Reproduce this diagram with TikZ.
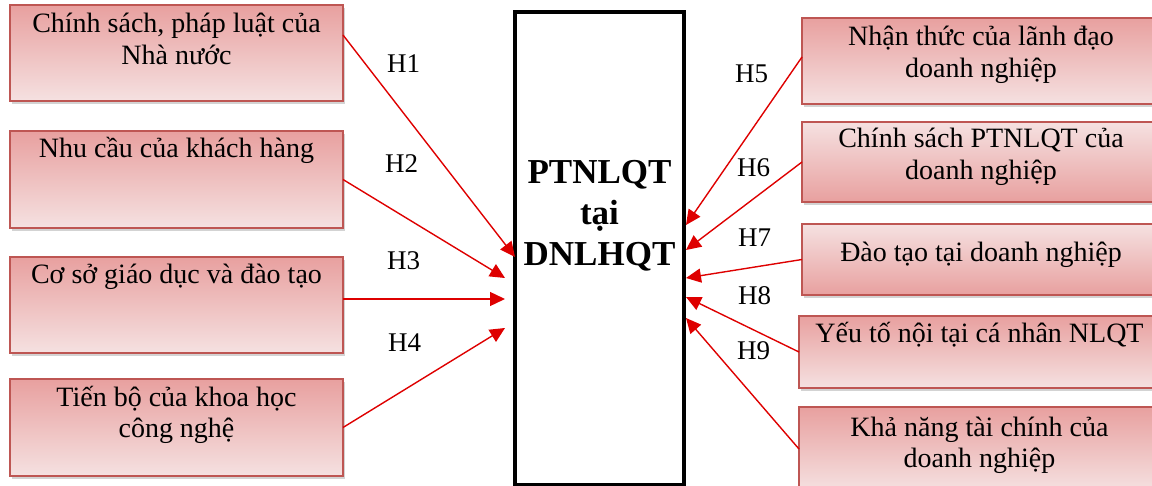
\documentclass[tikz,border=0pt]{standalone}
\usepackage{fontspec}
\setmainfont{Liberation Serif}
\usetikzlibrary{shadows,arrows.meta,calc}

\definecolor{boxtop}{RGB}{232,160,159}
\definecolor{boxbot}{RGB}{245,225,225}
\definecolor{boxline}{RGB}{190,86,83}
\definecolor{arrowred}{RGB}{222,0,0}

% top-aligned, centred text block of a given size; #3 = depth of the first baseline
\newcommand\boxtext[4]{\parbox[c][#2][t]{#1}{\centering\rule{0pt}{#3}#4\par}}

\tikzset{
  factor/.style={draw=boxline, line width=1.3pt, inner sep=0pt, outer sep=0pt,
    anchor=north west, top color=boxtop, bottom color=boxbot,
    drop shadow={shadow xshift=1.5pt, shadow yshift=-3pt, opacity=0.35},
    font=\fontsize{28}{32}\selectfont},
  factorinv/.style={factor, top color=boxbot, bottom color=boxtop},
  core/.style={draw=black, line width=4pt, inner sep=0pt, outer sep=0pt,
    anchor=north west, font=\bfseries\fontsize{35}{41}\selectfont},
  link/.style={draw=arrowred, line width=1.4pt,
    -{Triangle[length=15pt,width=14pt]}},
  hlabel/.style={anchor=base west, inner sep=0pt, font=\fontsize{27}{32}\selectfont}
}

\begin{document}
\begin{tikzpicture}[x=1pt,y=-1pt]
\clip (0,0) rectangle (1152,486);

% central concept
\node[core] (core) at (515,12.5)
  {\boxtext{169pt}{472pt}{171pt}{PTNLQT\\tại\\DNLHQT}};

% external factors (left)
\node[factor] (L1) at (10,5)   {\boxtext{333pt}{96pt}{28pt}{Chính sách, pháp luật của\\Nhà nước}};
\node[factor] (L2) at (10,131) {\boxtext{333pt}{97pt}{27pt}{Nhu cầu của khách hàng}};
\node[factor] (L3) at (10,257) {\boxtext{333pt}{96pt}{27pt}{Cơ sở giáo dục và đào tạo}};
\node[factor] (L4) at (10,379) {\boxtext{333pt}{97pt}{27pt}{Tiến bộ của khoa học\\công nghệ}};

% internal factors (right)
\node[factor]    (R5) at (802,18)  {\boxtext{358pt}{86pt}{28pt}{Nhận thức của lãnh đạo\\doanh nghiệp}};
\node[factorinv] (R6) at (802,122) {\boxtext{358pt}{80pt}{26pt}{Chính sách PTNLQT của\\doanh nghiệp}};
\node[factorinv] (R7) at (802,224) {\boxtext{358pt}{71pt}{38pt}{Đào tạo tại doanh nghiệp}};
\node[factor]    (R8) at (799,316) {\boxtext{361pt}{72pt}{27pt}{Yếu tố nội tại cá nhân NLQT}};
\node[factor]    (R9) at (799,407) {\boxtext{361pt}{84pt}{29pt}{Khả năng tài chính của\\doanh nghiệp}};

% hypotheses
\draw[link] ([yshift=18pt]L1.east) -- ([yshift=-8.5pt]core.west);
\draw[link] (L2.east) -- ([xshift=-10pt,yshift=-29.5pt]core.west);
\draw[link] ([yshift=6pt]L3.east) -- ([xshift=-10pt,yshift=-50.5pt]core.west);
\draw[link] (L4.east) -- ([xshift=-10pt,yshift=-79.5pt]core.west);

\draw[link] ([yshift=4pt]R5.west) -- ([xshift=2pt,yshift=23.5pt]core.east);
\draw[link] (R6.west) -- ([xshift=2pt,yshift=-1.5pt]core.east);
\draw[link] (R7.west) -- ([xshift=2pt,yshift=-29.5pt]core.east);
\draw[link] (R8.west) -- ([xshift=2pt,yshift=-48.5pt]core.east);
\draw[link] (R9.west) -- ([xshift=2pt,yshift=-69.5pt]core.east);

\node[hlabel] (h1) at (387,73)  {H1};
\node[hlabel] (h2) at (385,173) {H2};
\node[hlabel] (h3) at (387,270) {H3};
\node[hlabel] (h4) at (388,352) {H4};
\node[hlabel] (h5) at (735,83)  {H5};
\node[hlabel] (h6) at (737,177) {H6};
\node[hlabel] (h7) at (738,247) {H7};
\node[hlabel] (h8) at (738,305) {H8};
\node[hlabel] (h9) at (737,360) {H9};
\end{tikzpicture}
\end{document}
